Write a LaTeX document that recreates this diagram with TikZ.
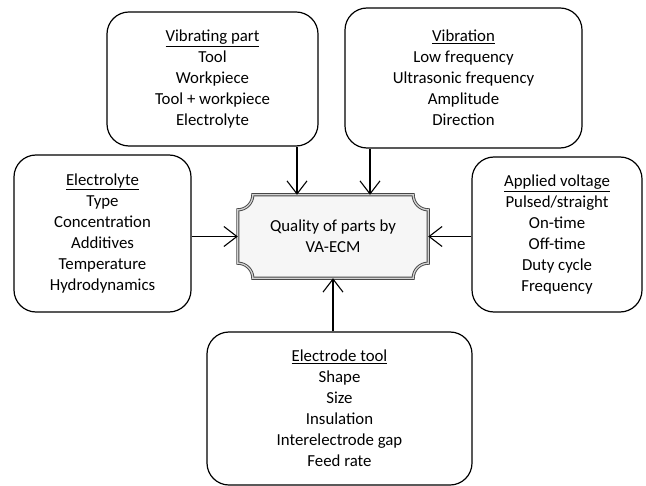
\documentclass[tikz,border=0pt]{standalone}
\usepackage{fontspec}
\setmainfont{Carlito}
\usetikzlibrary{arrows.meta,calc,backgrounds}
\begin{document}
\begin{tikzpicture}[x=1bp,y=1bp,
  box/.style={draw=black, line width=1.2bp, rounded corners=22bp, align=center,
    inner sep=0pt, font=\fontsize{16.8bp}{21bp}\selectfont},
  arr/.style={draw=black, line width=1.1bp,
    -{Straight Barb[length=13bp,width=20bp,line width=1.1bp]}},
  plaque/.style={fill=gray!7, draw=gray!55!black, line width=0.9bp,
    double=gray!35, double distance=1.3bp}]
\useasboundingbox (0,0) rectangle (646,-486);

\node[box, minimum width=211bp, minimum height=134bp] (vp) at (212.5,-79)
  {\underline{Vibrating part}\\Tool\\Workpiece\\Tool + workpiece\\Electrolyte};
\node[box, minimum width=237bp, minimum height=140bp] (vb) at (463.5,-78)
  {\underline{Vibration}\\Low frequency\\Ultrasonic frequency\\Amplitude\\Direction};
\node[box, minimum width=177bp, minimum height=157bp] (el) at (102.5,-233.5)
  {\underline{Electrolyte}\\Type\\Concentration\\Additives\\Temperature\\Hydrodynamics};
\node[box, minimum width=170bp, minimum height=155bp] (av) at (557,-234.5)
  {\underline{Applied voltage}\\Pulsed/straight\\On-time\\Off-time\\Duty cycle\\Frequency};
\node[box, minimum width=265bp, minimum height=153bp] (et) at (339.5,-408.5)
  {\underline{Electrode tool}\\Shape\\Size\\Insulation\\Interelectrode gap\\Feed rate};
\node[align=center, inner sep=0pt, minimum width=190bp, minimum height=83bp,
  font=\fontsize{16.8bp}{21bp}\selectfont] (q) at (333,-236.5)
  {Quality of parts by\\VA-ECM};

\begin{scope}[on background layer]
\draw[plaque] ([xshift=15bp]q.north west) -- ([xshift=-15bp]q.north east)
  arc[start angle=180, end angle=270, radius=15bp]
  -- ([yshift=15bp]q.south east)
  arc[start angle=90, end angle=180, radius=15bp]
  -- ([xshift=15bp]q.south west)
  arc[start angle=0, end angle=90, radius=15bp]
  -- ([yshift=-15bp]q.north west)
  arc[start angle=270, end angle=360, radius=15bp] -- cycle;
\end{scope}

\draw[arr] ([xshift=-36bp]q.north |- vp.south) -- ([xshift=-36bp]q.north);
\draw[arr] ([xshift=37bp]q.north |- vb.south) -- ([xshift=37bp]q.north);
\draw[arr] (el.east |- q.west) -- (q.west);
\draw[arr] (av.west |- q.east) -- (q.east);
\draw[arr] (et.north -| q.south) -- (q.south);
\end{tikzpicture}
\end{document}
